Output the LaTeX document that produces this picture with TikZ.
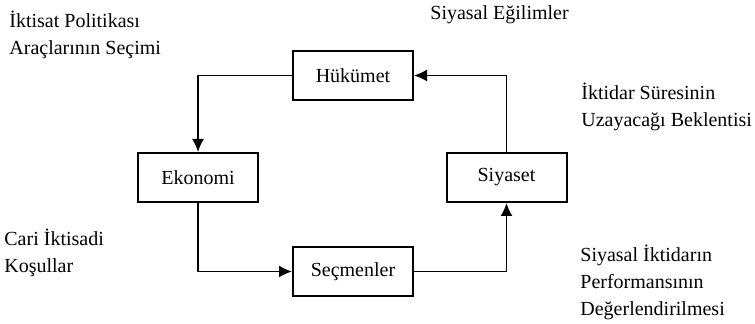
\documentclass[tikz,border=0pt]{standalone}
\usepackage{fontspec}
\setmainfont{Liberation Serif}
\usepackage{tikz}
\usetikzlibrary{arrows.meta}

\begin{document}
\begin{tikzpicture}[x=0.5pt,y=-0.5pt,
  kutu/.style={draw,line width=1pt,minimum width=60pt,minimum height=24.5pt,inner sep=0pt,font=\fontsize{10}{13.5}\selectfont},
  etiket/.style={anchor=base west,align=left,inner sep=0pt,font=\fontsize{10}{13.5}\selectfont},
  ok/.style={->,>={Latex[length=6.5pt,width=6pt]},line width=0.8pt}]
 \useasboundingbox (0,0) rectangle (755,324);

 \node [kutu] (hukumet) at (353,75.5){Hükümet};
 \node [kutu] (ekonomi) at (198,177.5){Ekonomi};
 \node [kutu] (secmenler) at (353,271.5){Seçmenler};
 \node [kutu] (siyaset) at (506.5,177.5){Siyaset};

 \draw[ok] (hukumet.west) -| (ekonomi.north);
 \draw[ok] (ekonomi.south) |- (secmenler.west);
 \draw[ok] (secmenler.east) -| (siyaset.south);
 \draw[ok] (siyaset.north) |- (hukumet.east);

 % base = son satirin tabani
 \node [etiket] (politika) at (9,55) {İktisat Politikası\\Araçlarının Seçimi};
 \node [etiket] (egilim) at (430,20) {Siyasal Eğilimler};
 \node [etiket] (sure) at (581,127) {İktidar Süresinin\\Uzayacağı Beklentisi};
 \node [etiket] (kosul) at (4,273) {Cari İktisadi\\Koşullar};
 \node [etiket] (performans) at (580,316) {Siyasal İktidarın\\Performansının\\Değerlendirilmesi};

\end{tikzpicture}
\end{document}
